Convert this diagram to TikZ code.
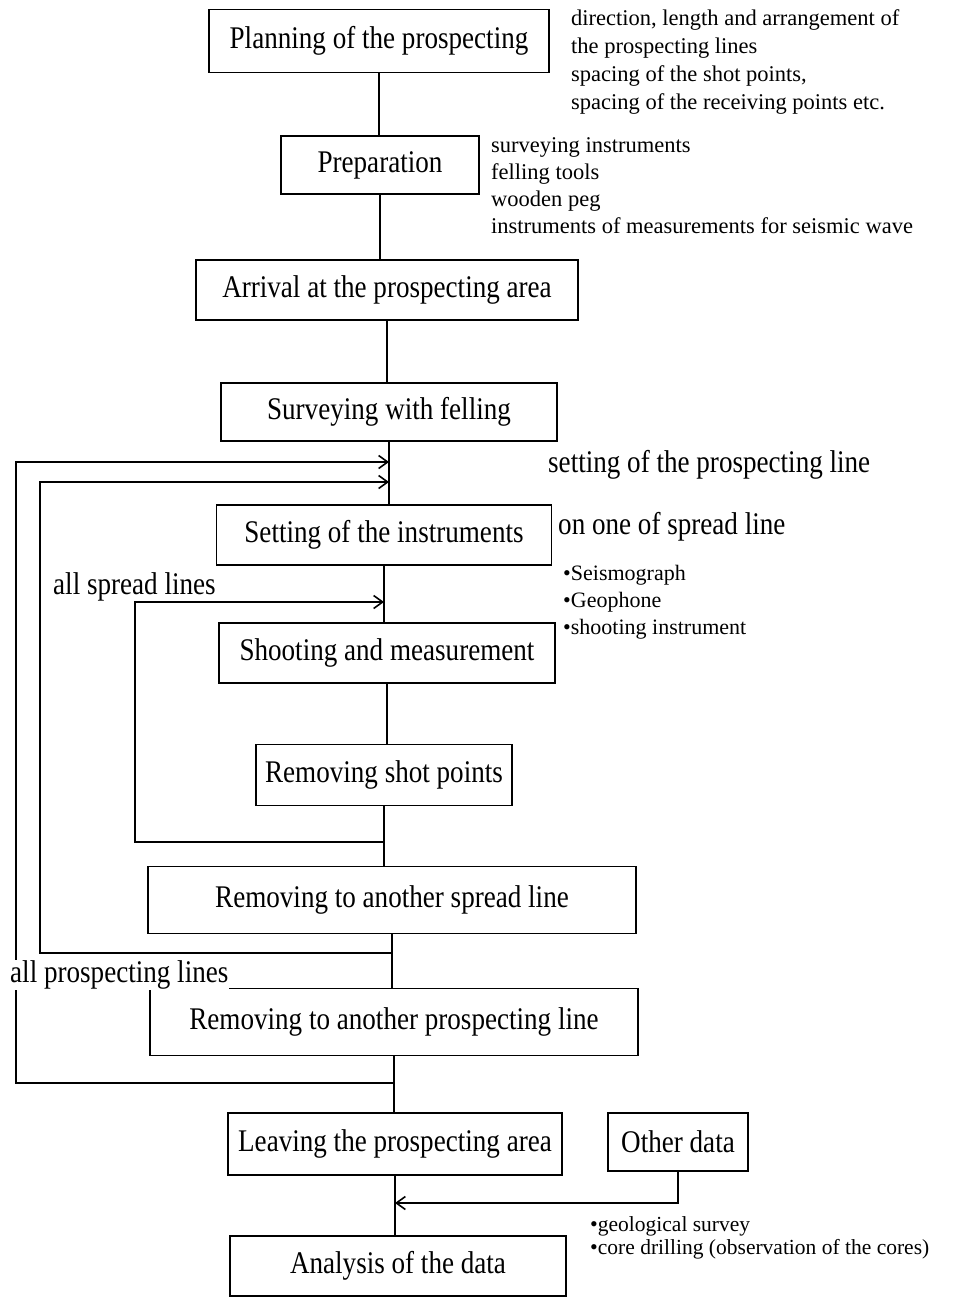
\documentclass[tikz,border=0pt]{standalone}
\usepackage{fontspec}
\setmainfont{Liberation Serif}
\newfontfamily\boxfnt[FakeStretch=0.86]{Liberation Serif}
\newcommand{\bul}{{\fontsize{22}{22}\selectfont\textbullet}}
\usetikzlibrary{arrows.meta,calc}
\begin{document}
\begin{tikzpicture}[x=1pt,y=-1pt,
  box/.style={draw,line width=1.6pt,inner sep=0pt,font=\boxfnt\fontsize{31.5}{34}\selectfont},
  lbl/.style={anchor=west,inner sep=1pt,font=\boxfnt\fontsize{31.5}{34}\selectfont},
  ann/.style={anchor=west,inner sep=0pt,align=left},
  conn/.style={line width=1.6pt},
  arr/.style={line width=1.6pt,-{Straight Barb[length=9pt,width=13pt,line width=1.6pt]}}]
\useasboundingbox[fill=white] (0,0) rectangle (963,1298);
% boxes
\node[box,minimum width=340,minimum height=63] (P) at (379,41) {Planning of the prospecting};
\node[box,minimum width=198,minimum height=58] (Prep) at (380,165) {Preparation};
\node[box,minimum width=382,minimum height=60] (Arr) at (387,290) {Arrival at the prospecting area};
\node[box,minimum width=336,minimum height=58] (Surv) at (389,412) {Surveying with felling};
\node[box,minimum width=335,minimum height=60] (Set) at (384,535) {Setting of the instruments};
\node[box,minimum width=336,minimum height=60] (Shoot) at (387,653) {Shooting and measurement};
\node[box,minimum width=256,minimum height=61] (RemS) at (384,775) {Removing shot points};
\node[box,minimum width=488,minimum height=67] (Spr) at (392,900) {Removing to another spread line};
\node[box,minimum width=488,minimum height=67] (Pro) at (394,1022) {Removing to another prospecting line};
\node[box,minimum width=334,minimum height=62] (Lea) at (395,1144) {Leaving the prospecting area};
\node[box,minimum width=140,minimum height=58] (Oth) at (678,1142) {Other data};
\node[box,minimum width=336,minimum height=60] (Ana) at (398,1266) {Analysis of the data};
% trunk
\draw[conn] (P.south) -- (P.south |- Prep.north);
\draw[conn] (Prep.south) -- (Prep.south |- Arr.north);
\draw[conn] (Arr.south) -- (Arr.south |- Surv.north);
\draw[conn] (Surv.south) -- (Surv.south |- Set.north);
\draw[conn] (Set.south) -- (Set.south |- Shoot.north);
\draw[conn] (Shoot.south) -- (Shoot.south |- RemS.north);
\draw[conn] (RemS.south) -- (RemS.south |- Spr.north);
\draw[conn] (Spr.south) -- (Spr.south |- Pro.north);
\draw[conn] (Pro.south) -- (Pro.south |- Lea.north);
\draw[conn] (Lea.south) -- (Lea.south |- Ana.north);
% loop coordinates
\coordinate (oL) at (16,0);
\coordinate (mL) at (40,0);
\coordinate (iL) at (135,0);
\coordinate (o1) at (Pro.south |- 0,1083);
\coordinate (o2) at (Surv.south |- 0,462);
\coordinate (m1) at (Spr.south |- 0,953);
\coordinate (m2) at (Surv.south |- 0,482);
\coordinate (i1) at (RemS.south |- 0,842);
\coordinate (i2) at (Set.south |- 0,602);
\coordinate (d1) at (Lea.south |- 0,1203);
% loops
\draw[arr] (o1) -- (o1 -| oL) -- (o2 -| oL) -- (o2);
\draw[arr] (m1) -- (m1 -| mL) -- (m2 -| mL) -- (m2);
\draw[arr] (i1) -- (i1 -| iL) -- (i2 -| iL) -- (i2);
\draw[arr] (Oth.south) -- (Oth.south |- d1) -- (d1);
% labels
\node[lbl] (l1) at (547,465) {setting of the prospecting line};
\node[lbl] (l2) at (557,527) {on one of spread line};
\node[lbl] (l3) at (52,587) {all spread lines};
\node[lbl,fill=white] (l4) at (9,975) {all prospecting lines};
% annotations
\node[ann,font=\fontsize{22.5}{28}\selectfont] (a1) at (571,62) {direction, length and arrangement of\\the prospecting lines\\spacing of the shot points,\\spacing of the receiving points etc.};
\node[ann,font=\fontsize{22.5}{27}\selectfont] (a2) at (491,186) {surveying instruments\\felling tools\\wooden peg\\instruments of measurements for seismic wave};
\node[ann,font=\fontsize{22}{27}\selectfont] (a3) at (563,602) {\bul Seismograph\\\bul Geophone\\\bul shooting instrument};
\node[ann,font=\fontsize{21.5}{22.5}\selectfont] (a4) at (590,1238) {\bul geological survey\\\bul core drilling (observation of the cores)};
\end{tikzpicture}
\end{document}
